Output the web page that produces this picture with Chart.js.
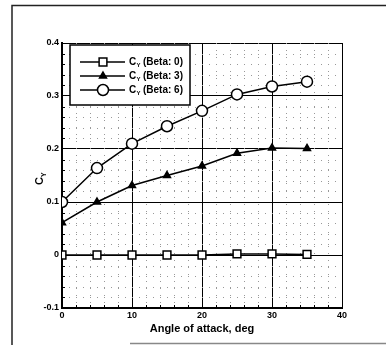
<!DOCTYPE html>
<html>
<head>
<meta charset="utf-8">
<script src="https://cdn.jsdelivr.net/npm/chart.js@4/dist/chart.umd.min.js"></script>
<style>
  html, body { margin: 0; padding: 0; background: #fff; }
  #wrap { position: relative; width: 386px; height: 345px; }
</style>
</head>
<body>
<div id="wrap"><canvas id="chart" width="386" height="345"></canvas></div>
<script>
// data
const angles = [0, 5, 10, 15, 20, 25, 30, 35];
const cyBeta0 = [0, 0, 0, 0, 0, 0.002, 0.002, 0.001];
const cyBeta3 = [0.061, 0.1, 0.131, 0.15, 0.168, 0.192, 0.202, 0.201];
const cyBeta6 = [0.1, 0.164, 0.21, 0.243, 0.272, 0.303, 0.318, 0.327];
const seriesNames = ['Beta: 0', 'Beta: 3', 'Beta: 6'];
const xTicks = [0, 10, 20, 30, 40];
const yTicks = [-0.1, 0, 0.1, 0.2, 0.3, 0.4];

const toPts = vals => vals.map((v, i) => ({x: angles[i], y: v}));
const markers = ['rect', 'triangle', 'circle'];
const fills = ['#fff', '#000', '#fff'];
const radii = [5.5, 4, 5.5];

const font = 'bold 10px "Liberation Sans", Arial, sans-serif';

// minor grid, tick marks, legend, axis title and page frame
const extras = {
    id: 'extras',
    beforeDatasetsDraw(chart) {
        const {ctx, chartArea: a, scales: {x, y}} = chart;
        ctx.save();
        ctx.strokeStyle = '#999';
        ctx.lineWidth = 1;
        ctx.setLineDash([1, 6]);
        for (let v = 2; v < 40; v += 2) {
            if (v % 10 === 0) continue;
            const px = Math.round(x.getPixelForValue(v)) + 0.5;
            ctx.beginPath(); ctx.moveTo(px, a.top); ctx.lineTo(px, a.bottom); ctx.stroke();
        }
        for (let k = -4; k < 20; k++) {
            if (k % 5 === 0) continue;
            const py = Math.round(y.getPixelForValue(k * 0.02)) + 0.5;
            ctx.beginPath(); ctx.moveTo(a.left, py); ctx.lineTo(a.right, py); ctx.stroke();
        }
        ctx.setLineDash([]);
        ctx.strokeStyle = '#000';
        // minor ticks inward
        for (let v = 2; v < 40; v += 2) {
            if (v % 10 === 0) continue;
            const px = Math.round(x.getPixelForValue(v)) + 0.5;
            ctx.beginPath(); ctx.moveTo(px, a.bottom); ctx.lineTo(px, a.bottom - 3); ctx.stroke();
        }
        for (let k = -4; k < 20; k++) {
            if (k % 5 === 0) continue;
            const py = Math.round(y.getPixelForValue(k * 0.02)) + 0.5;
            ctx.beginPath(); ctx.moveTo(a.left, py); ctx.lineTo(a.left + 3, py); ctx.stroke();
        }
        ctx.restore();
    },
    afterDraw(chart) {
        const {ctx} = chart;
        ctx.save();
        // legend box
        const bx = 70, by = 45, bw = 120, bh = 60;
        ctx.fillStyle = '#fff';
        ctx.fillRect(bx, by, bw, bh);
        ctx.strokeStyle = '#000';
        ctx.lineWidth = 1.5;
        ctx.strokeRect(bx, by, bw, bh);
        seriesNames.forEach((name, i) => {
            const ly = by + 17 + i * 14;
            ctx.strokeStyle = '#000';
            ctx.lineWidth = 1.5;
            ctx.beginPath(); ctx.moveTo(bx + 10, ly); ctx.lineTo(bx + 55, ly); ctx.stroke();
            ctx.fillStyle = fills[i];
            Chart.helpers.drawPoint(ctx, {pointStyle: markers[i], radius: radii[i], rotation: 0, borderWidth: 1.5}, bx + 33, ly);
            ctx.fillStyle = '#000';
            ctx.font = font;
            ctx.textBaseline = 'middle';
            ctx.fillText('C', bx + 59, ly);
            ctx.font = 'bold 6px "Liberation Sans", Arial, sans-serif';
            ctx.fillText('Y', bx + 66.5, ly + 3);
            ctx.font = font;
            ctx.fillText('(' + name + ')', bx + 73, ly);
        });
        // y axis title
        ctx.translate(40, 180);
        ctx.rotate(-Math.PI / 2);
        ctx.fillStyle = '#000';
        ctx.textBaseline = 'middle';
        ctx.font = 'bold 11px "Liberation Sans", Arial, sans-serif';
        ctx.fillText('C', -5, 0);
        ctx.font = 'bold 7px "Liberation Sans", Arial, sans-serif';
        ctx.fillText('Y', 3, 4);
        ctx.restore();
        // page frame
        ctx.save();
        ctx.strokeStyle = '#222';
        ctx.lineWidth = 1.5;
        ctx.beginPath();
        ctx.moveTo(12, 345); ctx.lineTo(12, 5.5); ctx.lineTo(386, 5.5);
        ctx.stroke();
        ctx.strokeStyle = '#888';
        ctx.beginPath(); ctx.moveTo(130, 343.5); ctx.lineTo(386, 343.5); ctx.stroke();
        ctx.restore();
    }
};

const makeSet = (label, vals, i) => ({
    label: label,
    data: toPts(vals),
    borderColor: '#000',
    borderWidth: 1.5,
    backgroundColor: fills[i],
    pointStyle: markers[i],
    pointRadius: radii[i],
    pointBorderColor: '#000',
    pointBorderWidth: 1.5,
    pointBackgroundColor: fills[i],
    tension: 0
});

const ctx = document.getElementById('chart').getContext('2d');
const chart = new Chart(ctx, {
    type: 'line',
    data: {
        datasets: [
            makeSet(seriesNames[0], cyBeta0, 0),
            makeSet(seriesNames[1], cyBeta3, 1),
            makeSet(seriesNames[2], cyBeta6, 2)
        ]
    },
    options: {
        responsive: false,
        animation: false,
        layout: {padding: {left: 0, top: 43, right: 44, bottom: 9}},
        plugins: {legend: {display: false}, tooltip: {enabled: false}},
        scales: {
            x: {
                type: 'linear',
                min: 0, max: 40,
                afterFit: s => { s.height = 28; },
                afterBuildTicks: s => { s.ticks = xTicks.map(v => ({value: v})); },
                ticks: {color: '#000', font: {family: '"Liberation Sans", Arial', size: 9, weight: 'bold'}, padding: 2, maxRotation: 0},
                grid: {color: '#000', lineWidth: 1, drawTicks: false},
                border: {color: '#000', width: 2},
                title: {display: true, text: 'Angle of attack, deg', color: '#000', padding: {top: 0, bottom: 0},
                        font: {family: '"Liberation Sans", Arial', size: 11, weight: 'bold'}}
            },
            y: {
                type: 'linear',
                min: -0.1, max: 0.4,
                afterFit: s => { s.width = 62; },
                afterBuildTicks: s => { s.ticks = yTicks.map(v => ({value: v})); },
                ticks: {color: '#000', font: {family: '"Liberation Sans", Arial', size: 9, weight: 'bold'}, padding: 3,
                        callback: v => (Math.round(v * 10) / 10).toString()},
                grid: {color: '#000', lineWidth: 1, drawTicks: false},
                border: {color: '#000', width: 2}
            }
        }
    },
    plugins: [extras]
});
</script>
</body>
</html>
